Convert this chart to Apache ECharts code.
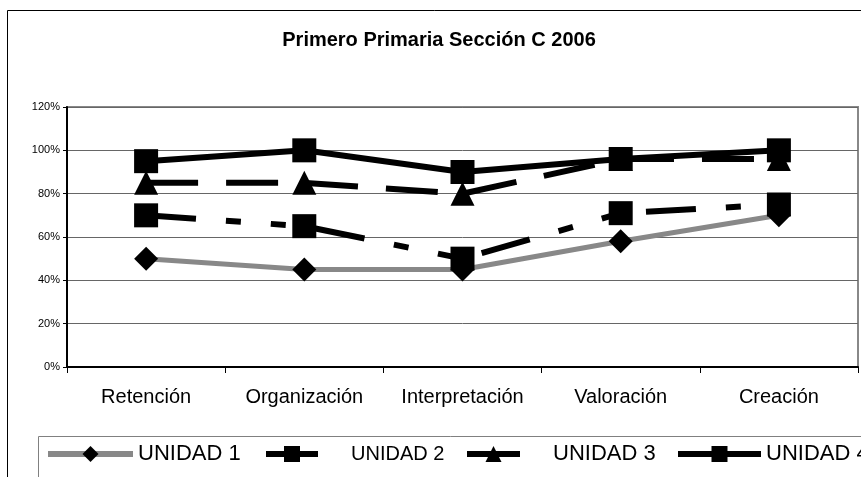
<!DOCTYPE html>
<html>
<head>
<meta charset="utf-8">
<script src="https://cdn.jsdelivr.net/npm/echarts@6/dist/echarts.min.js"></script>
<style>
  html, body { margin: 0; padding: 0; background: #fff; }
  #chart { width: 861px; height: 477px; }
</style>
</head>
<body>
<div id="chart"></div>
<script>
// datos
var categorias = ['Retención', 'Organización', 'Interpretación', 'Valoración', 'Creación'];
var unidad1 = [50, 45, 45, 58, 70];
var unidad2 = [70, 65, 50, 71, 75];
var unidad3 = [85, 85, 80, 96, 96];
var unidad4 = [95, 100, 90, 96, 100];
var ticksY = [0, 20, 40, 60, 80, 100, 120];

var fuente = "'Liberation Sans', Arial, sans-serif";

var myChart = echarts.init(document.getElementById('chart'));

// una leyenda por serie para poder ubicar cada una
function leyenda(nombre, left, top, width, size, pad) {
  return {
    data: [nombre],
    left: left,
    top: top,
    padding: 0,
    itemWidth: width,
    itemHeight: 20,
    selectedMode: false,
    lineStyle: { type: 'solid', width: 6, cap: 'butt' },
    textStyle: {
      fontFamily: fuente,
      fontSize: size,
      color: '#000',
      padding: [0, 0, 0, pad]
    }
  };
}

myChart.setOption({
  animation: false,
  title: {
    text: 'Primero Primaria Sección C 2006',
    left: 439,
    top: 30,
    padding: 0,
    textAlign: 'center',
    textStyle: {
      fontFamily: fuente,
      fontSize: 20,
      fontWeight: 'bold',
      color: '#000'
    }
  },
  graphic: [
    { // marco exterior
      type: 'rect',
      silent: true,
      shape: { x: 7.5, y: 10.5, width: 900, height: 500 },
      style: { fill: 'none', stroke: '#000', lineWidth: 1 }
    },
    { // cuadro de la leyenda
      type: 'rect',
      silent: true,
      shape: { x: 38.5, y: 436.5, width: 900, height: 60 },
      style: { fill: 'none', stroke: '#808080', lineWidth: 1 }
    }
  ],
  legend: [
    leyenda('UNIDAD 1', 45, 443, 85, 22, 0),
    leyenda('UNIDAD 2', 263, 444, 52, 20, 28),
    leyenda('UNIDAD 3', 464, 443, 53, 22, 28),
    leyenda('UNIDAD 4', 675, 443, 83, 22, 0)
  ],
  grid: {
    left: 67,
    right: 3,
    top: 107,
    bottom: 110,
    show: true,
    borderColor: '#888',
    borderWidth: 2
  },
  xAxis: {
    type: 'category',
    data: categorias,
    boundaryGap: true,
    axisLine: { lineStyle: { color: '#000', width: 2 } },
    axisTick: { show: true, interval: 0, length: 6, lineStyle: { color: '#000', width: 1 } },
    axisLabel: { fontFamily: fuente, fontSize: 20, color: '#000', margin: 20, interval: 0 }
  },
  yAxis: {
    type: 'value',
    min: ticksY[0],
    max: ticksY[ticksY.length - 1],
    interval: ticksY[1] - ticksY[0],
    axisLine: { show: true, lineStyle: { color: '#000', width: 2 } },
    axisTick: { show: true, length: 4, lineStyle: { color: '#000' } },
    axisLabel: { fontFamily: fuente, fontSize: 11, color: '#000', margin: 7, formatter: '{value}%' },
    splitLine: { lineStyle: { color: '#666', width: 1 } }
  },
  series: [
    {
      name: 'UNIDAD 1',
      type: 'line',
      data: unidad1,
      symbol: 'diamond',
      symbolSize: 24,
      itemStyle: { color: '#000' },
      lineStyle: { color: '#888', width: 5 }
    },
    {
      name: 'UNIDAD 2',
      type: 'line',
      data: unidad2,
      symbol: 'rect',
      symbolSize: 24,
      itemStyle: { color: '#000' },
      lineStyle: { color: '#000', width: 6, type: [50, 30, 15, 30, 15, 30], cap: 'butt' }
    },
    {
      name: 'UNIDAD 3',
      type: 'line',
      data: unidad3,
      symbol: 'triangle',
      symbolSize: 24,
      itemStyle: { color: '#000' },
      lineStyle: { color: '#000', width: 6, type: [52, 28], cap: 'butt' }
    },
    {
      name: 'UNIDAD 4',
      type: 'line',
      data: unidad4,
      symbol: 'rect',
      symbolSize: 24,
      itemStyle: { color: '#000' },
      lineStyle: { color: '#000', width: 6 }
    }
  ]
});
</script>
</body>
</html>
